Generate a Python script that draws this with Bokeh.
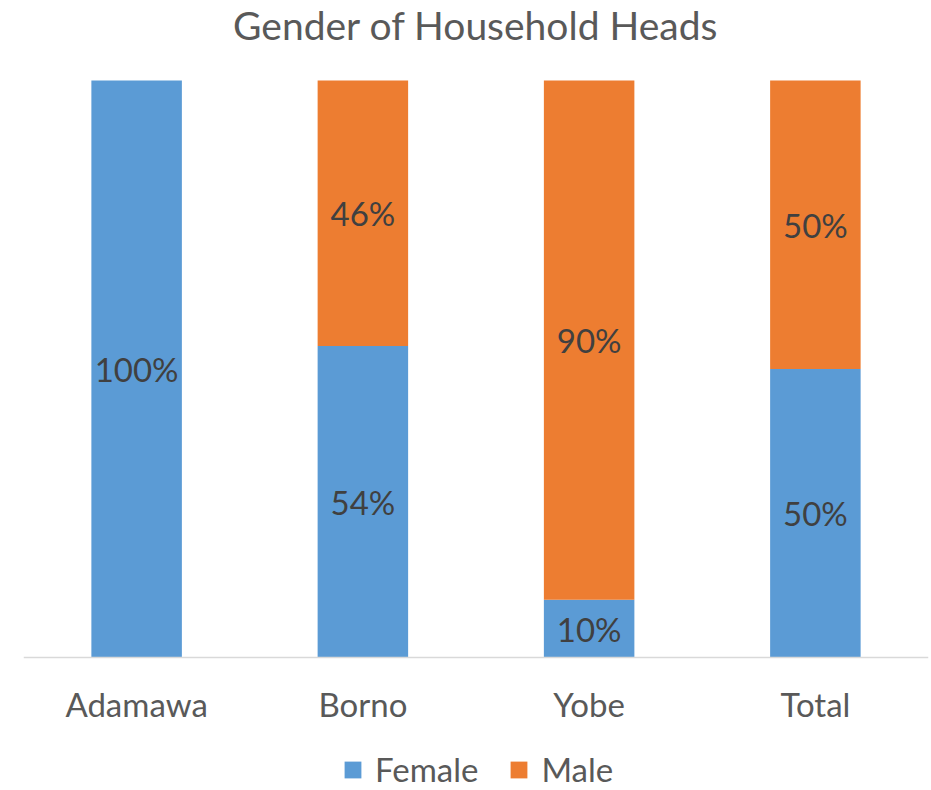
from bokeh.plotting import figure
from bokeh.models import ColumnDataSource, Range1d, FixedTicker, Legend, LegendItem, Label
from bokeh.core.properties import value
from bokeh.embed import file_html
from bokeh.resources import INLINE

categories = ["Adamawa", "Borno", "Yobe", "Total"]
female = [1.00, 0.54, 0.10, 0.50]
male = [0.00, 0.46, 0.90, 0.50]
title_text = "Gender of Household Heads"
series_names = ["Female", "Male"]
colors = ["#5B9BD5", "#ED7D31"]

FONT = "Lato"
xs = list(range(len(categories)))

# the frame fills the figure vertically: 100% sits 80 px below the top, 0 sits 133 px above the bottom
PX = 1 / 577.0
p = figure(width=931, height=790, output_backend="svg", toolbar_location=None,
           x_range=Range1d(-0.5, 3.5), y_range=Range1d(-133 * PX, 1 + 80 * PX),
           min_border_left=23, min_border_right=3, min_border_top=0, min_border_bottom=0)
p.outline_line_color = None
p.grid.visible = False
p.yaxis.visible = False
p.title.visible = False

src = ColumnDataSource(dict(x=xs, female=female, male=male,
                            top=[f + m for f, m in zip(female, male)]))
r_f = p.vbar(x="x", bottom=0, top="female", width=0.4, fill_color=colors[0],
             line_color=None, source=src)
r_m = p.vbar(x="x", bottom="female", top="top", width=0.4, fill_color=colors[1],
             line_color=None, source=src)

# data labels
lx, ly, lt = [], [], []
for i, (f, m) in enumerate(zip(female, male)):
    if f > 0:
        lx.append(i); ly.append(f / 2); lt.append(f"{round(f*100)}%")
    if m > 0:
        lx.append(i); ly.append(f + m / 2); lt.append(f"{round(m*100)}%")
lsrc = ColumnDataSource(dict(x=lx, y=ly, t=lt))
p.text(x="x", y="y", text="t", source=lsrc, text_align="center", text_baseline="middle",
       text_font=value(FONT), text_font_size="33px", text_color="#404040")

ax = p.xaxis[0]
ax.fixed_location = 0
ax.ticker = FixedTicker(ticks=xs)
ax.major_label_overrides = {i: c for i, c in enumerate(categories)}
ax.major_label_text_font = FONT
ax.major_label_text_font_size = "33px"
ax.major_label_text_color = "#595959"
ax.major_label_standoff = 20
ax.major_tick_line_color = None
ax.minor_tick_line_color = None
ax.axis_line_color = "#D9D9D9"
ax.axis_line_width = 1.5

# chart title
p.add_layout(Label(x=(len(categories) - 1) / 2, y=1 + 56 * PX, text=title_text,
                   text_align="center", text_baseline="middle", text_font=FONT,
                   text_font_size="39px", text_color="#595959"))

legend = Legend(items=[LegendItem(label=series_names[0], renderers=[r_f]),
                       LegendItem(label=series_names[1], renderers=[r_m])],
                orientation="horizontal", location=(319, 1),
                label_text_font=FONT, label_text_font_size="33px", label_text_color="#595959",
                glyph_width=21, glyph_height=21, label_standoff=12, spacing=30,
                padding=0, margin=0, border_line_color=None, background_fill_alpha=0)
p.add_layout(legend, "center")

open("out.html", "w").write(file_html(p, INLINE))
